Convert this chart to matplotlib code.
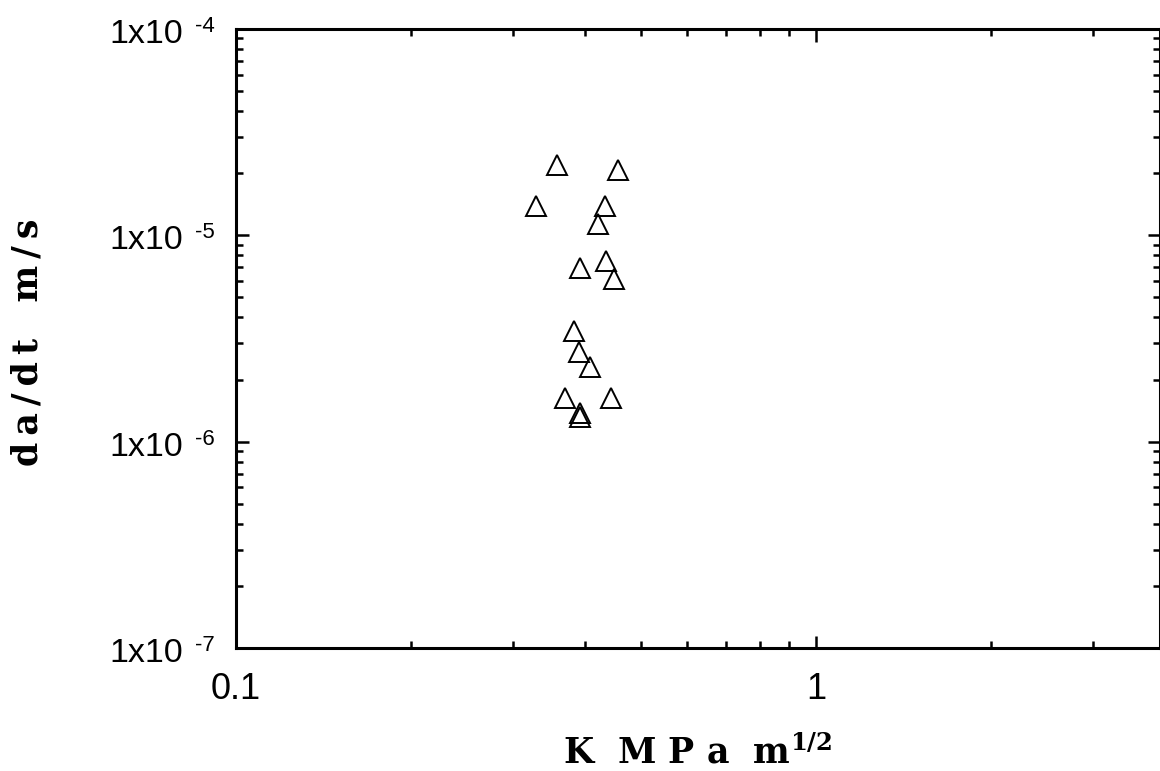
"""Velocidad de crecimiento de grieta frente a K (log-log), triángulos abiertos."""
import numpy as np
import matplotlib
matplotlib.use("Agg")
import matplotlib.pyplot as plt
from matplotlib.ticker import LogLocator, FixedLocator, NullFormatter

# datos
K = [0.358, 0.455, 0.329, 0.432, 0.421, 0.392, 0.435, 0.448,
     0.382, 0.390, 0.408, 0.369, 0.444, 0.392, 0.392]
dadt = [2.19e-5, 2.07e-5, 1.39e-5, 1.39e-5, 1.13e-5, 6.92e-6, 7.53e-6, 6.14e-6,
        3.45e-6, 2.73e-6, 2.31e-6, 1.62e-6, 1.62e-6, 1.37e-6, 1.32e-6]

x_ticks = [0.1, 1]
x_labels = ["0.1", "1"]
y_ticks = [1e-7, 1e-6, 1e-5, 1e-4]
y_exps = ["-7", "-6", "-5", "-4"]

SANS = ["Liberation Sans Narrow", "Liberation Sans", "DejaVu Sans"]
plt.rcParams["font.family"] = SANS
plt.rcParams["mathtext.fontset"] = "dejavuserif"

fig = plt.figure(figsize=(11.6, 7.71), dpi=100)
ax = fig.add_axes([236 / 1160, 1 - 648 / 771, (1159.5 - 236) / 1160, (648 - 29) / 771])

ax.plot(K, dadt, linestyle="none", marker="^", markersize=15,
        markerfacecolor="none", markeredgecolor="black", markeredgewidth=1.4)

ax.set_xscale("log")
ax.set_yscale("log")
ax.set_xlim(0.1, 10 ** ((1159.5 - 236) / 580 - 1))
ax.set_ylim(1e-7, 1e-4)

ax.xaxis.set_major_locator(FixedLocator(x_ticks))
ax.set_xticklabels(x_labels)
ax.xaxis.set_minor_locator(LogLocator(base=10, subs=np.arange(2, 10)))
ax.xaxis.set_minor_formatter(NullFormatter())
ax.yaxis.set_major_locator(FixedLocator(y_ticks))
ax.yaxis.set_major_formatter(NullFormatter())
ax.yaxis.set_minor_locator(LogLocator(base=10, subs=np.arange(2, 10)))
ax.yaxis.set_minor_formatter(NullFormatter())

# etiquetas del eje y: "1x10" con exponente aparte
for yv, e in zip(y_ticks, y_exps):
    ax.annotate("1x10", xy=(0, yv), xycoords=ax.get_yaxis_transform(),
                xytext=(-53, -14), textcoords="offset pixels",
                ha="right", va="baseline", fontsize=24.5, annotation_clip=False)
    ax.annotate(e, xy=(0, yv), xycoords=ax.get_yaxis_transform(),
                xytext=(-41, -3), textcoords="offset pixels",
                ha="left", va="baseline", fontsize=16, annotation_clip=False)

for s in ax.spines.values():
    s.set_linewidth(2.2)
ax.tick_params(which="both", direction="in", top=True, right=True, width=1.8)
ax.tick_params(which="major", length=9)
ax.tick_params(which="minor", length=5)
ax.tick_params(axis="x", which="major", labelsize=26, pad=17)

fig.text(698 / 1160, 1 - 763 / 771, r"K  M P a  m$^{\mathbf{1 / 2}}$", fontsize=25,
         fontweight="bold", family="DejaVu Serif", ha="center", va="baseline")
fig.text(28 / 1160, 1 - 342 / 771, "d\u2009a\u2009/\u2009d\u2009t   m\u2009/\u2009s",
         fontsize=25, fontweight="bold", family="DejaVu Serif", rotation=90,
         ha="center", va="center")

fig.savefig("out.png", dpi=100, facecolor="white")
